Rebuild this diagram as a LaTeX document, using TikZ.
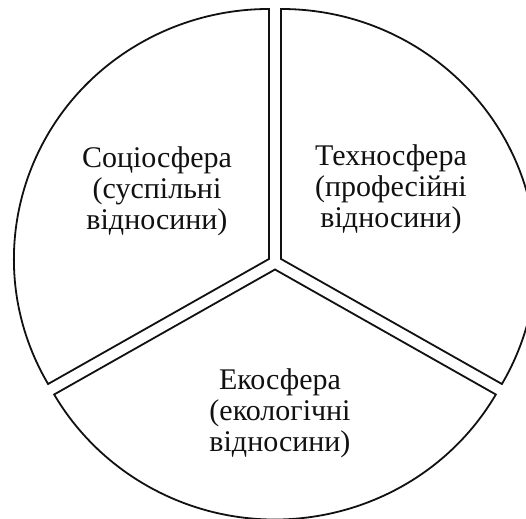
\documentclass[tikz,border=0pt]{standalone}
\usepackage{fontspec}
\setmainfont{Liberation Serif}
\usetikzlibrary{calc}
\definecolor{sfInk}{HTML}{111111}
\newcommand{\SFType}{\fontsize{30}{31}\selectfont}
\tikzset{sf/base/.style={x=1pt,y=1pt,line join=miter,
  every node/.style={font=\SFType,inner sep=0pt,text=sfInk}},
  sf/sector/.style={draw=sfInk,line width=1.8pt,fill=white},
  sf/label/.style={align=center}}
\begin{document}
\begin{tikzpicture}[sf/base]
  \useasboundingbox (0,0) rectangle (526,518);
  \clip (0,0) rectangle (526,518);
  % Three sectors pulled 7pt apart from the common centre.
  \coordinate (ctr) at (275,255.5);
  \foreach \name/\mid in {socio/150,techno/30,eco/270}{%
    \coordinate (\name) at ($(ctr)+(\mid:7)$);
    \draw[sf/sector] (\name) -- ++({\mid+60}:255 and 250)
      arc[start angle={\mid+60},end angle={\mid-60},x radius=255,y radius=250] -- cycle;}
  \node[sf/label] (sociotext) at (157,327) {Соціосфера\\(суспільні\\відносини)};
  \node[sf/label] (technotext) at (391,329) {Техносфера\\(професійні\\відносини)};
  \node[sf/label] (ecotext) at (280,105) {Екосфера\\(екологічні\\відносини)};
\end{tikzpicture}
\end{document}
